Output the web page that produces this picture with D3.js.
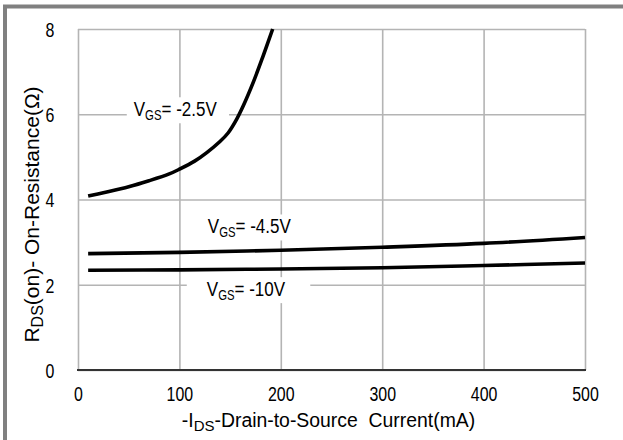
<!DOCTYPE html>
<html>
<head>
<meta charset="utf-8">
<script src="https://cdn.jsdelivr.net/npm/d3@7"></script>
<style>
  body { margin: 0; background: #fff; }
  text { font-family: "Liberation Sans", Arial, sans-serif; fill: #000; }
</style>
</head>
<body>
<div id="chart"></div>
<script>
/* CONSTANTS AND GLOBALS */
const width = 623,
  height = 440,
  margin = {top: 29, bottom: 70, left: 78, right: 38};

// x axis ticks (mA) and y axis ticks (ohm)
const xTicks = [0, 100, 200, 300, 400, 500];
const yTicks = [0, 2, 4, 6, 8];

// VGS = -2.5V
const ids25 = [10, 25, 50, 70, 90, 100, 115, 127, 140, 148, 155, 163, 173, 182, 192];
const rds25 = [4.08, 4.16, 4.3, 4.44, 4.6, 4.71, 4.9, 5.1, 5.36, 5.56, 5.82, 6.2, 6.76, 7.33, 8.0];

// VGS = -4.5V
const ids45 = [10, 100, 200, 300, 400, 500];
const rds45 = [2.73, 2.76, 2.81, 2.88, 2.97, 3.11];

// VGS = -10V
const ids10 = [10, 100, 200, 300, 400, 500];
const rds10 = [2.34, 2.35, 2.37, 2.40, 2.45, 2.51];

const seriesNames = ["-2.5V", "-4.5V", "-10V"];
// where each label sits (mA, ohm) and how far the white gap reaches past the text
const labelX = [55, 128, 127];
const labelY = [5.96, 3.21, 1.74];
const gapPad = [[7, 12], [3, 3], [20, 25]];

let svg, xScale, yScale;

function init() {
  svg = d3.select("#chart")
    .append("svg")
    .attr("width", width)
    .attr("height", height);

  // outer gray frame (top and left only)
  svg.append("path")
    .attr("d", `M5,${height} L5,6.5 L${width},6.5`)
    .attr("fill", "none")
    .attr("stroke", "#808080")
    .attr("stroke-width", 4);

  xScale = d3.scaleLinear()
    .domain([0, 500])
    .range([margin.left, width - margin.right]);

  yScale = d3.scaleLinear()
    .domain([0, 8])
    .range([height - margin.bottom, margin.top]);

  const plotW = width - margin.right - margin.left,
    plotH = height - margin.bottom - margin.top;

  // vertical grid + x tick labels
  const xAxisGroup = svg.append("g")
    .attr("transform", `translate(0, ${height - margin.bottom})`)
    .call(d3.axisBottom(xScale).tickValues(xTicks).tickSize(-plotH).tickFormat(d3.format("d")));

  // horizontal grid + y tick labels
  const yAxisGroup = svg.append("g")
    .attr("transform", `translate(${margin.left}, 0)`)
    .call(d3.axisLeft(yScale).tickValues(yTicks).tickSize(-plotW).tickFormat(d3.format("d")));

  [xAxisGroup, yAxisGroup].forEach(g => {
    g.select(".domain").remove();
    g.selectAll(".tick line").attr("stroke", "#b4b4b4").attr("stroke-width", 1.6);
    g.selectAll(".tick text")
      .attr("x", 0).attr("y", 0).attr("dy", "0.35em")
      .attr("text-anchor", "middle")
      .style("font-size", "21px")
      .attr("fill", "#000");
  });
  xAxisGroup.selectAll(".tick text").attr("transform", "translate(0, 24) scale(0.76, 1)");
  yAxisGroup.selectAll(".tick text").attr("transform", "translate(-28, 0) scale(0.76, 1)");

  // dark bottom axis line
  svg.append("line")
    .attr("x1", margin.left - 1).attr("x2", width - margin.right + 1)
    .attr("y1", yScale(0)).attr("y2", yScale(0))
    .attr("stroke", "#333").attr("stroke-width", 1.8);

  // curve labels with white gaps behind them
  const labelG = svg.append("g");
  seriesNames.forEach((name, i) => {
    const t = labelG.append("text")
      .attr("transform", `translate(${xScale(labelX[i])}, ${yScale(labelY[i])}) scale(0.81, 1)`)
      .style("font-size", "21px");
    t.append("tspan").text("V");
    t.append("tspan").attr("dy", 4).style("font-size", "14px").text("GS");
    t.append("tspan").attr("dy", -4).text("= " + name);
    const b = t.node().getBoundingClientRect();
    labelG.insert("rect", "text")
      .attr("x", b.left - gapPad[i][0])
      .attr("y", b.top)
      .attr("width", b.width + gapPad[i][0] + gapPad[i][1])
      .attr("height", b.height)
      .attr("fill", "#fff");
  });

  // curves
  const lineGen = d3.line()
    .x(d => xScale(d[0]))
    .y(d => yScale(d[1]))
    .curve(d3.curveCatmullRom.alpha(0.5));

  const curves = [
    ids25.map((x, i) => [x, rds25[i]]),
    ids45.map((x, i) => [x, rds45[i]]),
    ids10.map((x, i) => [x, rds10[i]])
  ];

  svg.selectAll(".line")
    .data(curves)
    .join("path")
    .attr("class", "line")
    .attr("d", lineGen)
    .attr("fill", "none")
    .attr("stroke", "#000")
    .attr("stroke-width", 3.6);

  // x axis title
  const xt = svg.append("text")
    .attr("transform", `translate(${margin.left + plotW / 2 - 3}, 427)`)
    .attr("text-anchor", "middle")
    .style("font-size", "19.4px");
  xt.append("tspan").text("-I");
  xt.append("tspan").attr("dy", 4).style("font-size", "15px").text("DS");
  xt.append("tspan").attr("dy", -4).text("-Drain-to-Source  Current(mA)");
  xt.attr("xml:space", "preserve");

  // y axis title
  const yt = svg.append("text")
    .attr("transform", `translate(39, ${margin.top + plotH / 2 + 15}) rotate(-90)`)
    .attr("text-anchor", "middle")
    .style("font-size", "21px");
  yt.append("tspan").text("R");
  yt.append("tspan").attr("dy", 4).style("font-size", "16px").text("DS");
  yt.append("tspan").attr("dy", -4).text("(on)- On-Resistance(\u03A9)");
}

init();
</script>
</body>
</html>
